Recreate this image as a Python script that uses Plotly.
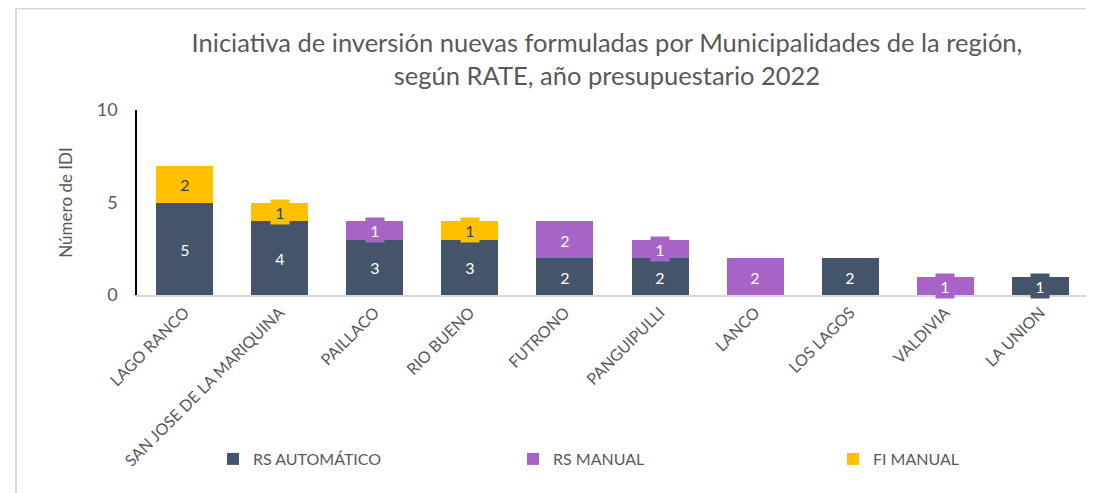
import plotly.graph_objects as go

categories = ["LAGO RANCO", "SAN JOSE DE LA MARIQUINA", "PAILLACO", "RIO BUENO", "FUTRONO",
              "PANGUIPULLI", "LANCO", "LOS LAGOS", "VALDIVIA", "LA UNION"]
rs_automatico = [5, 4, 3, 3, 2, 2, 0, 2, 0, 1]
rs_manual = [0, 0, 1, 0, 2, 1, 2, 0, 1, 0]
fi_manual = [2, 1, 0, 1, 0, 0, 0, 0, 0, 0]
y_ticks = [0, 5, 10]

series = [
    ("RS AUTOMÁTICO", rs_automatico, "#44546A", "white"),
    ("RS MANUAL", rs_manual, "#A764C6", "white"),
    ("FI MANUAL", fi_manual, "#FFC000", "#404040"),
]
legend_names = ["legend", "legend2", "legend3"]
legend_px = [205, 505, 825]

FONT = "Lato"
W, H = 1094, 493
L, R, T, B = 129, 14, 102, 206
PW, PH = W - L - R, H - T - B

fig = go.Figure()
base = [0] * len(categories)
annotations = []
for k, (name, vals, color, tcolor) in enumerate(series):
    fig.add_trace(go.Bar(name=name, x=categories, y=vals, marker=dict(color=color, line=dict(width=0)),
                         width=0.6, legend=legend_names[k]))
    for i, v in enumerate(vals):
        if v > 0:
            annotations.append(dict(x=categories[i], y=base[i] + v / 2, text=str(v), showarrow=False,
                                    bgcolor=color, borderpad=1, width=16, height=22,
                                    font=dict(family=FONT, size=16, color=tcolor)))
        base[i] += v

legend_style = dict(orientation="h", y=(H - B - 451) / PH, xanchor="left", yanchor="middle",
                    bgcolor="rgba(0,0,0,0)", font=dict(family=FONT, size=16, color="#595959"))
legends = {ln: dict(x=(px - L) / PW, **legend_style) for ln, px in zip(legend_names, legend_px)}

fig.update_layout(
    barmode="stack",
    width=W, height=H,
    margin=dict(l=L, r=R, t=T, b=B, autoexpand=False),
    paper_bgcolor="white", plot_bgcolor="white",
    font=dict(family=FONT, color="#595959"),
    title=dict(text="Iniciativa de inversión nuevas formuladas por Municipalidades de la región,<br>según RATE, año presupuestario 2022",
               x=599 / W, xanchor="center", y=1 - 44 / H, yanchor="middle",
               font=dict(family=FONT, size=25.5, color="#595959")),
    annotations=annotations,
    showlegend=True,
    **legends,
)
fig.update_yaxes(range=[0, 10], tickvals=y_ticks, showgrid=False, zeroline=False, automargin=False,
                 showline=True, linecolor="black", linewidth=1.5, ticks="",
                 tickfont=dict(family=FONT, size=18, color="#595959"), ticklabelstandoff=14,
                 title=dict(text="Número de IDI", font=dict(family=FONT, size=17, color="#595959"), standoff=20))
fig.update_xaxes(showgrid=False, showline=True, linecolor="#D9D9D9", linewidth=2, ticks="", automargin=False,
                 tickangle=-45, tickfont=dict(family=FONT, size=16, color="#595959"))
fig.add_shape(type="rect", xref="paper", yref="paper",
              x0=(8 - L) / PW, x1=(1110 - L) / PW, y0=(H - B - 520) / PH, y1=(H - B - 0.5) / PH,
              line=dict(color="#D9D9D9", width=2), fillcolor="rgba(0,0,0,0)", layer="below")
fig.write_html("out.html")
